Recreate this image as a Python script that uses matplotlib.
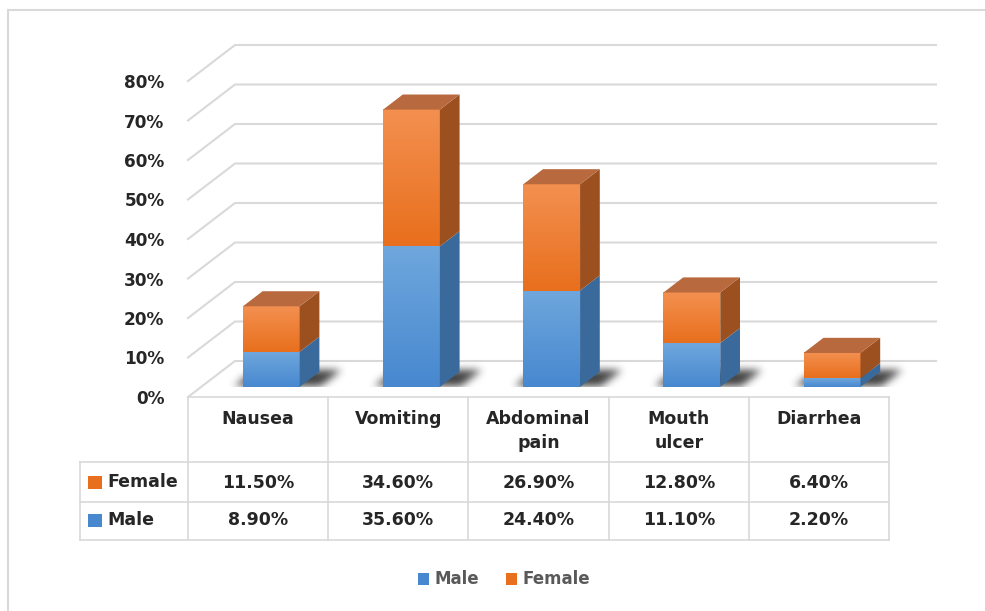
import numpy as np
import matplotlib
matplotlib.use("Agg")
import matplotlib.pyplot as plt
import matplotlib.patches as mpatches
from matplotlib.path import Path
from matplotlib.transforms import IdentityTransform, ScaledTranslation

# survey data (percent of patients)
symptoms = ["Nausea", "Vomiting", "Abdominal\npain", "Mouth\nulcer", "Diarrhea"]
male = [8.9, 35.6, 24.4, 11.1, 2.2]
female = [11.5, 34.6, 26.9, 12.8, 6.4]
y_ticks = [0, 10, 20, 30, 40, 50, 60, 70, 80]

W, H = 985, 611
DX, DY = 47, 36          # full depth of the floor, in pixels
F0, F1 = 0.28, 0.70      # front / back of the columns within the depth
BAR_W = 0.405

BLUE_TOP, BLUE_BOT, BLUE_SIDE = "#6fa7dd", "#4788cf", "#3a6a9c"
ORG_TOP, ORG_BOT, ORG_SIDE, ORG_LID = "#f39050", "#e86f1d", "#9c5020", "#b8693e"
GRID = "#d9d9d9"
TXT = "#262626"
FS = 12.5

plt.rcParams["font.family"] = ["DejaVu Sans"]

fig = plt.figure(figsize=(W / 100, H / 100), dpi=100)
fig.patch.set_facecolor("white")

# overlay in pixel units for border, table and legend
ov = fig.add_axes([0, 0, 1, 1])
ov.set_xlim(0, W)
ov.set_ylim(H, 0)
ov.axis("off")

x_left, x_right = 188, 889
y_floor, y_top = 397, 81
ax = fig.add_axes([x_left / W, (H - y_floor) / H, (x_right - x_left) / W,
                   (y_floor - y_top) / H])
ax.set_xlim(-0.5, len(symptoms) - 0.5)
ax.set_ylim(0, 80)
ax.set_autoscale_on(False)
ax.patch.set_alpha(0)
for s in ax.spines.values():
    s.set_visible(False)
ax.set_xticks([])
ax.set_yticks(y_ticks)
ax.set_yticklabels([f"{v}%" for v in y_ticks], fontsize=12.2, fontweight="bold",
                   color=TXT)
ax.tick_params(axis="y", length=0, pad=17)


def to_px(x, y, d):
    px, py = ax.transData.transform((x, y))
    return px + d * DX, py + d * DY


def shifted(d):
    return ax.transData + ScaledTranslation(d * DX / 100, d * DY / 100,
                                            fig.dpi_scale_trans)


def poly(pts, color, z, alpha=1.0):
    p = mpatches.Polygon(pts, closed=True, facecolor=color, edgecolor="none",
                         transform=IdentityTransform(), zorder=z, alpha=alpha,
                         clip_on=False)
    ax.add_patch(p)


def vgrad(c_top, c_bot):
    a = np.array(matplotlib.colors.to_rgb(c_top))
    b = np.array(matplotlib.colors.to_rgb(c_bot))
    t = np.linspace(0, 1, 64)[:, None]
    return (a * (1 - t) + b * t)[:, None, :]


def soft_shadow(corners, y_cut, z, sigma=4.0, alpha=0.85):
    corners = np.asarray(corners)
    pad = int(3 * sigma) + 2
    xmin = int(np.floor(corners[:, 0].min())) - pad
    xmax = int(np.ceil(corners[:, 0].max())) + pad
    ymin = int(np.floor(corners[:, 1].min())) - pad
    ymax = int(np.ceil(corners[:, 1].max())) + pad
    gx, gy = np.meshgrid(np.arange(xmin, xmax) + 0.5, np.arange(ymin, ymax) + 0.5)
    mask = Path(corners).contains_points(np.c_[gx.ravel(), gy.ravel()])
    mask = mask.reshape(gx.shape).astype(float)
    r = np.arange(-pad, pad + 1)
    k = np.exp(-0.5 * (r / sigma) ** 2)
    k /= k.sum()
    mask = np.apply_along_axis(lambda v: np.convolve(v, k, "same"), 1, mask)
    mask = np.apply_along_axis(lambda v: np.convolve(v, k, "same"), 0, mask)
    mask[gy < y_cut] = 0
    rgba = np.zeros(mask.shape + (4,))
    rgba[..., :3] = 0.12
    rgba[..., 3] = alpha * mask
    ax.imshow(rgba, extent=(xmin, xmax, ymin, ymax), origin="lower",
              transform=IdentityTransform(), zorder=z, clip_on=False,
              interpolation="bilinear")


# side wall and back wall gridlines
x0, x1 = ax.get_xlim()
for v in y_ticks:
    pts = [to_px(x0, v, 0), to_px(x0, v, 1), to_px(x1, v, 1)]
    xs, ys = zip(*pts)
    ax.add_line(plt.Line2D(xs, ys, color=GRID, lw=1.5, transform=IdentityTransform(),
                           zorder=1, clip_on=False))

# columns
z = 5
for i, (m, f) in enumerate(zip(male, female)):
    xl, xr = i - BAR_W / 2, i + BAR_W / 2
    # blurred shadow on the floor
    soft_shadow([to_px(xl - 0.07, 0, F0 + 0.03), to_px(xr + 0.14, 0, F0 + 0.03),
                 to_px(xr + 0.14, 0, F1 + 0.06), to_px(xl - 0.07, 0, F1 + 0.06)],
                to_px(xl, 0, F0)[1], z)
    z += 1
    segs = [(0, m, BLUE_TOP, BLUE_BOT, BLUE_SIDE), (m, m + f, ORG_TOP, ORG_BOT, ORG_SIDE)]
    for lo, hi, ct, cb, cs in segs:
        ax.imshow(vgrad(ct, cb), extent=(xl, xr, lo, hi), origin="upper",
                  aspect="auto", transform=shifted(F0), zorder=z,
                  interpolation="bilinear", clip_on=False)
        poly([to_px(xr, lo, F0), to_px(xr, lo, F1), to_px(xr, hi, F1), to_px(xr, hi, F0)],
             cs, z)
    top = m + f
    poly([to_px(xl, top, F0), to_px(xr, top, F0), to_px(xr, top, F1), to_px(xl, top, F1)],
         ORG_LID, z)
    z += 1

# data table below the floor
col_edges = [ax.transData.transform((e, 0))[0] for e in np.arange(-0.5, len(symptoms), 1.0)]
row_edges = [397, 462, 502, 540]
key_left = 80
lkw = dict(color=GRID, lw=1.2)
ov.plot([col_edges[0], col_edges[-1]], [row_edges[0]] * 2, **lkw)
for yv in row_edges[1:]:
    ov.plot([key_left, col_edges[-1]], [yv] * 2, **lkw)
for xv in col_edges:
    ov.plot([xv, xv], [row_edges[0], row_edges[-1]], **lkw)
ov.plot([key_left, key_left], [row_edges[1], row_edges[-1]], **lkw)

for i, name in enumerate(symptoms):
    cx = (col_edges[i] + col_edges[i + 1]) / 2
    ov.text(cx, 410, name, ha="center", va="top", fontsize=FS, fontweight="bold",
            color=TXT, linespacing=1.4)
    ov.text(cx, 483, f"{female[i]:.2f}%", ha="center", va="center", fontsize=FS,
            fontweight="bold", color=TXT)
    ov.text(cx, 520, f"{male[i]:.2f}%", ha="center", va="center", fontsize=FS,
            fontweight="bold", color=TXT)

for yc, label, col in [(482, "Female", ORG_BOT), (520, "Male", BLUE_BOT)]:
    ov.add_patch(mpatches.Rectangle((88, yc - 6.5), 14, 13, facecolor=col, edgecolor="none"))
    ov.text(107, yc, label, ha="left", va="center", fontsize=FS, fontweight="bold",
            color=TXT)

# legend
for xk, label, col in [(418, "Male", BLUE_BOT), (506, "Female", ORG_BOT)]:
    ov.add_patch(mpatches.Rectangle((xk, 573), 11, 12, facecolor=col, edgecolor="none"))
    ov.text(xk + 17, 579, label, ha="left", va="center", fontsize=12,
            fontweight="bold", color="#595959")

# chart frame
ov.plot([8, W], [10, 10], color=GRID, lw=1.5)
ov.plot([8, 8], [10, H], color=GRID, lw=1.5)

fig.savefig("out.png", dpi=100)
